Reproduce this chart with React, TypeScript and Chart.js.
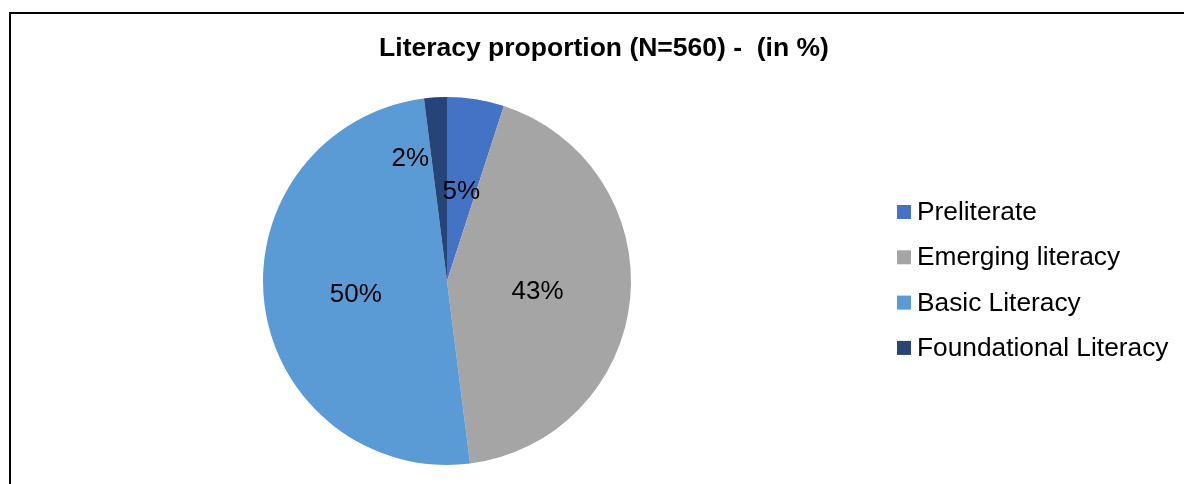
import React, { useEffect, useRef } from "react";
import { Chart, registerables } from "chart.js";

Chart.register(...registerables);

// Literacy levels of the 560 surveyed learners, in percent
const categories = ["Preliterate", "Emerging literacy", "Basic Literacy", "Foundational Literacy"];
const shares = [5, 43, 50, 2];
const sliceColors = ["#4472C4", "#A5A5A5", "#5B9BD5", "#264478"];
const chartTitle = "Literacy proportion (N=560) -  (in %)";

const FONT = "'Liberation Sans', Arial, sans-serif";

// Small offsets so the percentage labels sit clear of each other
const labelNudge: [number, number][] = [
  [0, 0],
  [-1, 0],
  [0, 0],
  [-31, -32],
];

const decorations = {
  id: "decorations",
  afterDatasetsDraw(chart: any) {
    const ctx = chart.ctx as CanvasRenderingContext2D;
    const meta = chart.getDatasetMeta(0);
    const ds = chart.data.datasets[0];

    // Title
    ctx.save();
    ctx.fillStyle = "#000";
    ctx.font = `bold 26.5px ${FONT}`;
    ctx.textAlign = "center";
    ctx.textBaseline = "alphabetic";
    ctx.fillText(chartTitle, 604, 56);

    // Percentage labels inside the slices
    const labelSize = 26;
    ctx.font = `${labelSize}px ${FONT}`;
    meta.data.forEach((arc: any, i: number) => {
      const p = arc.getProps(["x", "y", "startAngle", "endAngle", "outerRadius"], true);
      const mid = (p.startAngle + p.endAngle) / 2;
      const r = p.outerRadius * 0.5;
      const cx = p.x + Math.cos(mid) * r + labelNudge[i][0];
      const cy = p.y + Math.sin(mid) * r + labelNudge[i][1];
      ctx.fillText(`${ds.data[i]}%`, cx, cy + labelSize * 0.716 / 2);
    });

    // Legend
    ctx.font = `26.3px ${FONT}`;
    ctx.textAlign = "left";
    const legendTop = 220;
    const rowGap = 45.3;
    chart.data.labels.forEach((label: string, i: number) => {
      const base = legendTop + i * rowGap;
      ctx.fillStyle = ds.backgroundColor[i];
      ctx.fillRect(897, base - 15, 14, 14);
      ctx.fillStyle = "#000";
      ctx.fillText(label, 917, base);
    });
    ctx.restore();
  },
};

export default function App() {
  const canvasRef = useRef<HTMLCanvasElement | null>(null);

  useEffect(() => {
    if (!canvasRef.current) return;
    const chart = new Chart(canvasRef.current, {
      type: "pie",
      data: {
        labels: categories,
        datasets: [
          {
            data: shares,
            backgroundColor: sliceColors,
            borderWidth: 0,
          },
        ],
      },
      options: {
        responsive: false,
        animation: false,
        devicePixelRatio: 1,
        layout: { padding: { left: 263, top: 97, right: 553, bottom: 19 } },
        plugins: {
          legend: { display: false },
          title: { display: false },
          tooltip: { enabled: false },
        },
      },
      plugins: [decorations],
    });
    return () => chart.destroy();
  }, []);

  return (
    <div
      style={{
        position: "fixed",
        left: 0,
        top: 0,
        width: 1184,
        height: 484,
        overflow: "hidden",
        background: "#fff",
      }}
    >
      <div
        style={{
          position: "absolute",
          left: 9,
          top: 12,
          width: 1200,
          height: 520,
          border: "2px solid #000",
          boxSizing: "border-box",
        }}
      />
      <canvas
        ref={canvasRef}
        width={1184}
        height={484}
        style={{ position: "absolute", left: 0, top: 0 }}
      />
    </div>
  );
}
